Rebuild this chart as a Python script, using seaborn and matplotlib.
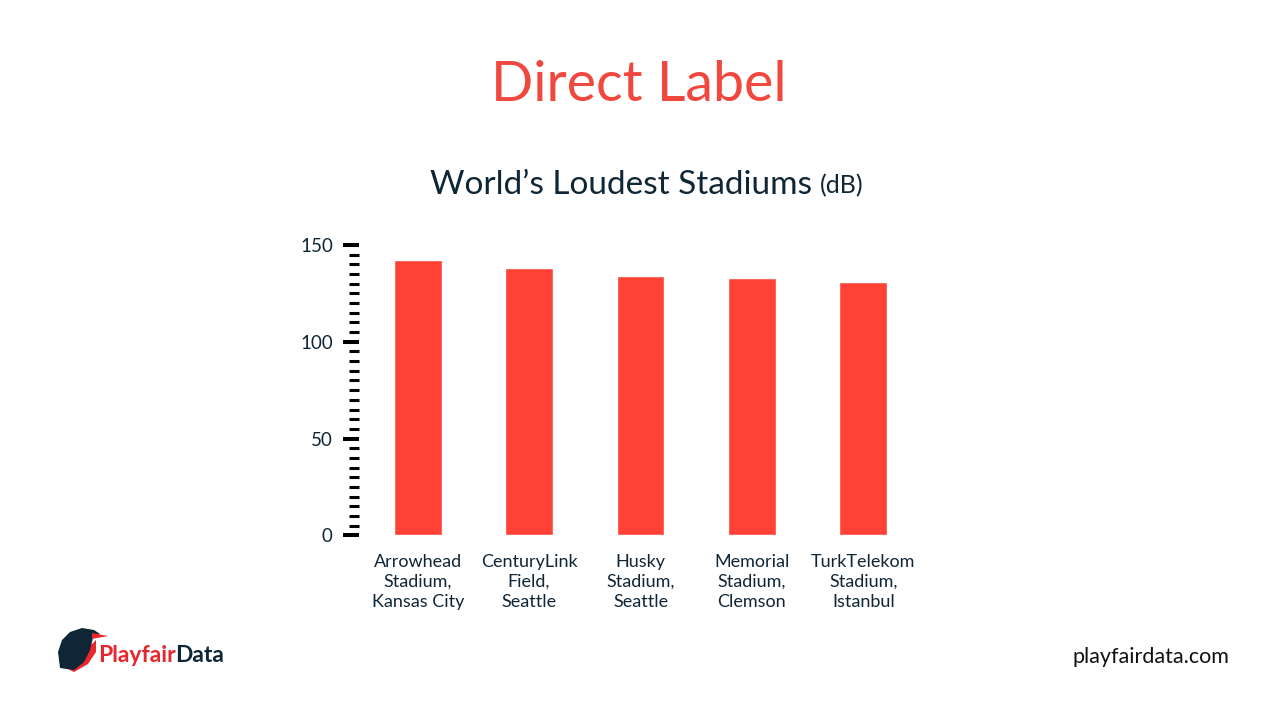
import numpy as np
import pandas as pd
import matplotlib
matplotlib.use("Agg")
import matplotlib.pyplot as plt
from matplotlib.ticker import MultipleLocator
from matplotlib.patches import Polygon
import seaborn as sns

# data
stadiums = ["Arrowhead\nStadium,\nKansas City", "CenturyLink\nField,\nSeattle",
            "Husky\nStadium,\nSeattle", "Memorial\nStadium,\nClemson",
            "TurkTelekom\nStadium,\nIstanbul"]
decibels = [142.2, 138.0, 134.1, 133.1, 131.0]

red = "#FF4136"
title_red = "#F0483E"
dark = "#0F2636"

sns.set_theme(style="white")
plt.rcParams['font.family'] = ['Lato', 'DejaVu Sans']

df = pd.DataFrame({"Stadium": stadiums, "dB": decibels})

fig = plt.figure(figsize=(12.8, 7.2), dpi=100)
ax = fig.add_axes([0.2828, 0.2565, 0.4352, 0.4032])

sns.barplot(data=df, x="Stadium", y="dB", color=red, width=0.43,
            saturation=1, ax=ax)
ax.set_xlim(-0.5, 4.5)
ax.set_ylim(0, 150)
ax.set_xlabel("")
ax.set_ylabel("")
for s in ax.spines.values():
    s.set_visible(False)
ax.spines["left"].set_position(("outward", 2.5))

ax.yaxis.set_major_locator(MultipleLocator(50))
ax.yaxis.set_minor_locator(MultipleLocator(5))
ax.tick_params(axis="y", which="major", left=True, length=11.5, width=2.9,
               color="black", labelsize=13.5, labelcolor=dark, pad=7)
ax.tick_params(axis="y", which="minor", left=True, length=7, width=2.2,
               color="black")
ax.tick_params(axis="x", bottom=False, labelsize=13, labelcolor=dark, pad=7.5)
for lbl in ax.get_xticklabels():
    lbl.set_linespacing(1.3)

# titles
fig.text(0.499, 0.881, "Direct Label", ha="center", va="center",
         fontsize=40, color=title_red)
sub = fig.text(430 / 1280, 0.743, "World\u2019s Loudest Stadiums", ha="left",
               va="center", fontsize=24, color=dark)

# logo
H = 720
bird_pts = [[60, 668], [58, 652], [62, 640], [70, 632], [82, 628], [94, 630],
            [100, 634], [93, 638], [90, 650], [84, 662], [74, 670]]
bird = Polygon([[x, H - y] for x, y in bird_pts], closed=True, transform=None,
               facecolor=dark, edgecolor="none", zorder=3)
wing_pts = [[66, 668], [78, 662], [88, 648], [96, 640], [96, 652], [88, 664],
            [74, 672]]
wing = Polygon([[x, H - y] for x, y in wing_pts], closed=True, transform=None,
               facecolor="#E8262E", edgecolor="none", zorder=2)
beak_pts = [[92, 633], [108, 636], [92, 639]]
beak = Polygon([[x, H - y] for x, y in beak_pts], closed=True, transform=None,
               facecolor="#E8262E", edgecolor="none", zorder=3)
fig.patches.extend([wing, bird, beak])
p1 = fig.text(98 / 1280, 1 - 655 / 720, "Playfair", ha="left", va="center",
              fontsize=16.5, fontweight="bold", color="#E8262E")

fig.text(1229 / 1280, 1 - 657 / 720, "playfairdata.com", ha="right", va="center",
         fontsize=15.5, color="#111111")

# place trailing pieces next to measured text
fig.canvas.draw()
r = fig.canvas.get_renderer()
inv = fig.transFigure.inverted()
bb = sub.get_window_extent(r)
x_end = inv.transform((bb.x1 + 8, 0))[0]
fig.text(x_end, 0.742, "(dB)", ha="left", va="center", fontsize=18, color=dark)
bb = p1.get_window_extent(r)
x_end = inv.transform((bb.x1 - 1, 0))[0]
fig.text(x_end, 1 - 655 / 720, "Data", ha="left", va="center",
         fontsize=16.5, fontweight="bold", color=dark)

fig.savefig("out.png", dpi=100)
